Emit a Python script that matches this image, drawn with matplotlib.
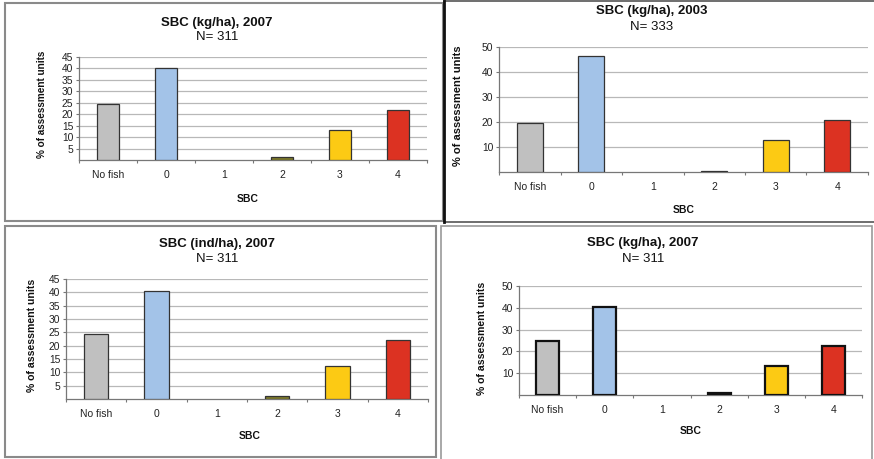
import numpy as np
import matplotlib
matplotlib.use("Agg")
import matplotlib.pyplot as plt
from matplotlib.patches import Rectangle
from matplotlib.lines import Line2D

plt.rcParams["font.family"] = ["Liberation Sans", "DejaVu Sans"]

W, H = 874, 459

# Daten
kategorien = ["No fish", "0", "1", "2", "3", "4"]
sbc_kg_2007 = [24.5, 40.0, 0.0, 1.2, 13.0, 22.0]
sbc_kg_2003 = [19.5, 46.3, 0.0, 0.5, 12.7, 20.6]
sbc_ind_2007 = [24.5, 40.4, 0.0, 1.0, 12.5, 22.0]
sbc_kg_2007b = [24.6, 40.2, 0.0, 0.9, 13.3, 22.3]

titel = ["SBC (kg/ha), 2007", "SBC (kg/ha), 2003", "SBC (ind/ha), 2007", "SBC (kg/ha), 2007"]
anzahl = ["N= 311", "N= 333", "N= 311", "N= 311"]

farben_a = ["#c0c0c0", "#a3c3e8", "#c0c0c0", "#7e7a2a", "#fcca14", "#dc3222"]
farben_b = ["#c0c0c0", "#a3c3e8", "#c0c0c0", "#111111", "#fcca14", "#dc3222"]


def px(x, y):
    return x / W, 1 - y / H


def rahmen(fig, x0, y0, x1, y1, farbe="#8a8a8a", lw=1.5):
    l, b = px(x0, y1)
    fig.add_artist(Rectangle((l, b), (x1 - x0) / W, (y1 - y0) / H,
                             transform=fig.transFigure, fill=False,
                             edgecolor=farbe, linewidth=lw))


def panel(fig, werte, farben, box, yticks, ymax, bw, titel_txt, n_txt,
          tpos, xlpos, ylpos, ylsize, edge_lw=0.9, edge_col="#333333"):
    l, t, r, b = box
    ax = fig.add_axes([l / W, 1 - b / H, (r - l) / W, (b - t) / H])
    x = np.arange(len(werte))
    # Balken mit Wert 0 ohne Rand zeichnen
    lws = [edge_lw if v > 0 else 0 for v in werte]
    ax.bar(x, werte, width=bw, color=farben, edgecolor=edge_col,
           linewidth=lws, zorder=3)
    ax.set_xlim(-0.5, len(werte) - 0.5)
    ax.set_ylim(0, ymax)
    ax.set_yticks(yticks)
    ax.set_yticklabels([str(v) for v in yticks], fontsize=7.4, color="#222222")
    ax.set_xticks(x)
    ax.set_xticklabels(kategorien, fontsize=7.5, color="#222222")
    ax.set_xticks(np.arange(-0.5, len(werte)), minor=True)
    ax.tick_params(axis="x", which="major", length=0, pad=7)
    ax.tick_params(axis="x", which="minor", length=2.5, color="#777777", width=0.8)
    ax.tick_params(axis="y", length=2.5, color="#777777", width=0.8, pad=1.5)
    ax.grid(axis="y", color="#b8b8b8", linewidth=0.9, zorder=0)
    ax.spines["top"].set_visible(False)
    ax.spines["right"].set_visible(False)
    for s in ["left", "bottom"]:
        ax.spines[s].set_color("#777777")
        ax.spines[s].set_linewidth(0.9)

    tx, ty, ny = tpos
    fig.text(*px(tx, ty), titel_txt, fontsize=9.5, fontweight="bold",
             ha="center", va="center", color="#111111")
    fig.text(*px(tx, ny), n_txt, fontsize=9.5, ha="center", va="center",
             color="#111111")
    fig.text(*px(*xlpos), "SBC", fontsize=7.5, fontweight="bold",
             ha="center", va="center", color="#111111")
    fig.text(*px(*ylpos), "% of assessment units", fontsize=ylsize,
             fontweight="bold", rotation=90, ha="center", va="center",
             color="#111111")
    return ax


fig = plt.figure(figsize=(W / 100, H / 100), dpi=100)

# Rahmen
rahmen(fig, 4.5, 3, 443, 221)
rahmen(fig, 444, 1, 876, 221.5, farbe="#555555", lw=1.2)
fig.add_artist(Line2D([443.5 / W, 443.5 / W], [1 - 1 / H, 1 - 221.5 / H],
                      transform=fig.transFigure, color="#111111", linewidth=2))
rahmen(fig, 5, 225.7, 435.7, 457)
rahmen(fig, 441, 225.7, 872, 462, farbe="#9a9a9a", lw=1.2)

panel(fig, sbc_kg_2007, farben_a, (79, 57, 427, 160), np.arange(5, 50, 5), 45, 0.38,
      titel[0], anzahl[0], (217, 23, 37), (248, 199), (42, 104), 7.2)
panel(fig, sbc_kg_2003, farben_b, (499, 47, 868, 172), np.arange(10, 60, 10), 50, 0.42,
      titel[1], anzahl[1], (652, 11, 27), (684, 210), (458, 106), 8)
panel(fig, sbc_ind_2007, farben_a, (66, 279, 428, 399), np.arange(5, 50, 5), 45, 0.4,
      titel[2], anzahl[2], (217, 244, 259), (250, 436), (32, 335), 7.6)
panel(fig, sbc_kg_2007b, farben_b, (519, 286, 862, 395), np.arange(10, 60, 10), 50, 0.4,
      titel[3], anzahl[3], (643, 243, 259), (691, 431), (482, 338), 7.6,
      edge_lw=1.6, edge_col="#111111")

fig.savefig("out.png", dpi=100)
